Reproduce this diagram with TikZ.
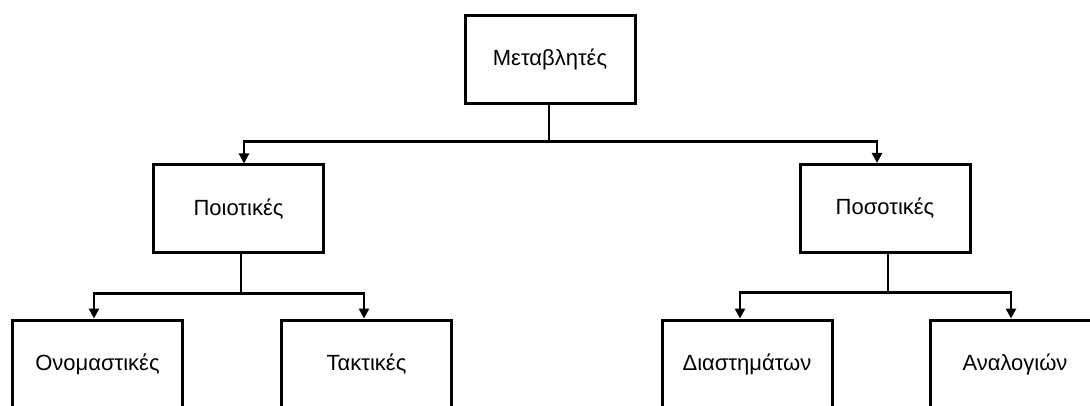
\documentclass[tikz,border=0pt]{standalone}
\usepackage{fontspec}
\setmainfont{Liberation Sans}
\usetikzlibrary{positioning, arrows.meta}

\begin{document}
\begin{tikzpicture}[x=1pt,y=-1pt,>={Triangle[length=10pt,width=10pt]},
  blk/.style={draw, line width=3pt, minimum width=170pt, minimum height=88pt, font=\fontsize{22}{26}\selectfont},
  con/.style={line width=2.5pt}]
\useasboundingbox (0,0) rectangle (1090,406);
% top level
\node (meta) [blk] at (550,59.5) {Μεταβλητές};
% second level
\node (poiot) [blk] at (238.5,209) {Ποιοτικές};
\node (poso) [blk] at (885,208.5) {Ποσοτικές};
% third level
\node (onom) [blk] at (97.5,364) {Ονομαστικές};
\node (takt) [blk] at (366.5,364) {Τακτικές};
\node (diast) [blk] at (747,364) {Διαστημάτων};
\node (anal) [blk] at (1015,364) {Αναλογιών};
% connectors
\draw [con,->] ([xshift=-1pt]meta.south) -- ++(0,36.5) -| ([xshift=5.5pt]poiot.north);
\draw [con,->] ([xshift=-1pt]meta.south) -- ++(0,36.5) -| ([xshift=-8pt]poso.north);
\draw [con,->] ([xshift=2.5pt]poiot.south) -- ++(0,39) -| ([xshift=-3.5pt]onom.north);
\draw [con,->] ([xshift=2.5pt]poiot.south) -- ++(0,39) -| ([xshift=-2.5pt]takt.north);
\draw [con,->] ([xshift=3pt]poso.south) -- ++(0,38.5) -| ([xshift=-7pt]diast.north);
\draw [con,->] ([xshift=3pt]poso.south) -- ++(0,38.5) -| ([xshift=-4pt]anal.north);
\end{tikzpicture}
\end{document}
